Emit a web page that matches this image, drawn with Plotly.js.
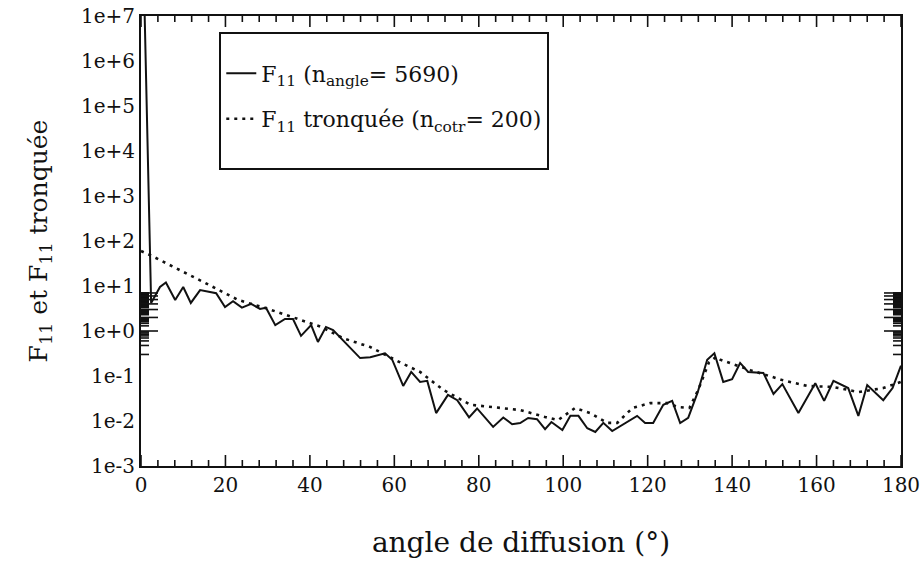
<!DOCTYPE html>
<html><head><meta charset="utf-8">
<script src="https://cdn.plot.ly/plotly-3.0.1.min.js"></script>
<style>html,body{margin:0;padding:0;background:#fff}</style>
</head><body><div id="chart" style="width:922px;height:573px"></div>
<script>
// F11 (n_angle = 5690) : angle de diffusion (deg) / valeur
const f11Angle = [0.8, 2.4, 4.5, 5.9, 8.1, 10.0, 11.8, 14.0, 17.8, 19.9, 21.8, 23.9, 26.1, 28.2, 29.6, 31.8, 34.1, 36.0, 37.9, 40.3, 41.9, 43.8, 45.5, 51.9, 54.3, 57.8, 59.5, 62.1, 64.0, 66.1, 67.8, 69.9, 72.7, 74.9, 77.7, 79.6, 83.4, 85.8, 87.9, 89.8, 91.7, 93.8, 95.7, 97.2, 99.8, 101.7, 103.6, 105.7, 107.6, 109.5, 111.6, 114.2, 117.5, 119.4, 121.3, 123.7, 125.8, 127.7, 129.6, 131.8, 134.1, 135.8, 137.9, 140.0, 141.9, 143.8, 147.4, 149.8, 151.9, 155.7, 159.7, 161.8, 164.0, 167.5, 169.9, 172.0, 175.8, 178.0, 180.0];
const f11Value = [2e7, 4.2, 9.5, 12, 4.9, 9.5, 4.2, 8.1, 6.9, 3.4, 4.6, 3.3, 4.0, 3.1, 3.3, 1.35, 1.85, 1.85, 0.78, 1.35, 0.57, 1.23, 1.05, 0.25, 0.26, 0.32, 0.23, 0.06, 0.123, 0.074, 0.078, 0.015, 0.038, 0.029, 0.012, 0.019, 0.0074, 0.012, 0.0085, 0.009, 0.0117, 0.011, 0.0066, 0.0095, 0.0063, 0.013, 0.013, 0.0069, 0.0057, 0.0091, 0.006, 0.0085, 0.013, 0.009, 0.009, 0.023, 0.028, 0.009, 0.0117, 0.042, 0.23, 0.32, 0.074, 0.085, 0.195, 0.123, 0.117, 0.04, 0.066, 0.015, 0.069, 0.028, 0.078, 0.054, 0.013, 0.063, 0.029, 0.054, 0.17];

// F11 tronquée (n_cotr = 200)
const truncAngle = [0, 2.1, 15.2, 23.0, 30.1, 42.7, 47.9, 54.3, 61.4, 66.1, 71.6, 78.0, 89.8, 92.2, 95.7, 98.8, 102.8, 106.4, 110.4, 112.8, 116.4, 120.6, 124.6, 127.3, 129.9, 132.0, 134.5, 136.3, 137.2, 144.3, 151.9, 157.8, 164.0, 169.9, 175.8, 180.0];
const truncValue = [60, 49, 11.7, 4.9, 3.1, 1.23, 0.69, 0.44, 0.2, 0.123, 0.049, 0.023, 0.0175, 0.015, 0.0123, 0.0105, 0.0195, 0.015, 0.0091, 0.0091, 0.0195, 0.025, 0.025, 0.0204, 0.0195, 0.05, 0.2, 0.27, 0.23, 0.135, 0.081, 0.06, 0.057, 0.044, 0.054, 0.074];

const xTickVals = [0, 20, 40, 60, 80, 100, 120, 140, 160, 180];
const yTickVals = [1e-3, 1e-2, 1e-1, 1e0, 1e1, 1e2, 1e3, 1e4, 1e5, 1e6, 1e7];
const yTickText = ['1e-3', '1e-2', '1e-1', '1e+0', '1e+1', '1e+2', '1e+3', '1e+4', '1e+5', '1e+6', '1e+7'];

const seriesNames = ['F<sub>11</sub> (n<sub>angle</sub>= 5690)', 'F<sub>11</sub> tronquée (n<sub>cotr</sub>= 200)'];

const serif = 'DejaVu Serif, serif';
const ink = '#111';

// minor tick positions derived from the major tick arrays
const xMinorVals = [];
xTickVals.slice(0, -1).forEach(v => { for (let k = 1; k <= 4; k++) xMinorVals.push(v + k * 4); });
const yMinorVals = [];
yTickVals.slice(0, -1).forEach(d => { for (let k = 2; k <= 9; k++) yMinorVals.push(d * k); });

// inward tick marks on all four frame sides, placed through the axes' own scales
const tickShapes = [];
function xTick(v, len) {
  [[0, len], [1, -len]].forEach(([anchor, l]) => tickShapes.push({
    type: 'line', layer: 'above', xref: 'x', x0: v, x1: v,
    yref: 'paper', ysizemode: 'pixel', yanchor: anchor, y0: 0, y1: l,
    line: {color: ink, width: 1.6}
  }));
}
function yTick(v, len) {
  const lv = Math.log10(v);
  [[0, len], [1, -len]].forEach(([anchor, l]) => tickShapes.push({
    type: 'line', layer: 'above', yref: 'y', y0: lv, y1: lv,
    xref: 'paper', xsizemode: 'pixel', xanchor: anchor, x0: 0, x1: l,
    line: {color: ink, width: 1.6}
  }));
}
xTickVals.forEach(v => xTick(v, 11));
xMinorVals.forEach(v => xTick(v, 6));
yTickVals.forEach(v => yTick(v, 17));
yMinorVals.forEach(v => yTick(v, 8));

const traces = [
  {x: f11Angle, y: f11Value, type: 'scatter', mode: 'lines', name: seriesNames[0], legendgroup: 'a',
   line: {color: ink, width: 2}},
  {x: truncAngle, y: truncValue, type: 'scatter', mode: 'lines',
   name: seriesNames[1] + '<br><span style="font-size:14px"> </span>', legendgroup: 'b',
   line: {color: ink, width: 2.6, dash: '3px,5px'}}
];

const layout = {
  width: 922, height: 573,
  margin: {l: 141, r: 21, t: 16, b: 107},
  paper_bgcolor: '#fff', plot_bgcolor: 'rgba(0,0,0,0)',
  font: {family: serif, color: ink, size: 20},
  showlegend: true,
  legend: {
    x: 0.103, y: 0.964, xanchor: 'left', yanchor: 'top',
    bgcolor: '#fff', bordercolor: ink, borderwidth: 2,
    font: {family: serif, size: 22, color: ink},
    title: {text: ' ', font: {size: 14}},
    traceorder: 'grouped', tracegroupgap: 14, valign: 'top'
  },
  shapes: tickShapes,
  xaxis: {
    range: [0, 180], tickmode: 'array', tickvals: xTickVals, ticks: '',
    showline: true, linecolor: ink, linewidth: 2, mirror: true,
    showgrid: false, zeroline: false,
    tickfont: {family: serif, size: 20, color: ink},
    title: {text: 'angle de diffusion (°)', font: {family: serif, size: 28, color: ink}, standoff: 36}
  },
  yaxis: {
    type: 'log', range: [-3, 7], tickmode: 'array', tickvals: yTickVals, ticktext: yTickText, ticks: '',
    showline: true, linecolor: ink, linewidth: 2, mirror: true,
    showgrid: false, zeroline: false,
    ticklabelstandoff: 0,
    tickfont: {family: serif, size: 20, color: ink},
    title: {text: 'F<sub>11</sub> et F<sub>11</sub> tronquée', font: {family: serif, size: 25, color: ink}, standoff: 26}
  }
};

Plotly.newPlot('chart', traces, layout, {displayModeBar: false});
</script>
</body></html>
